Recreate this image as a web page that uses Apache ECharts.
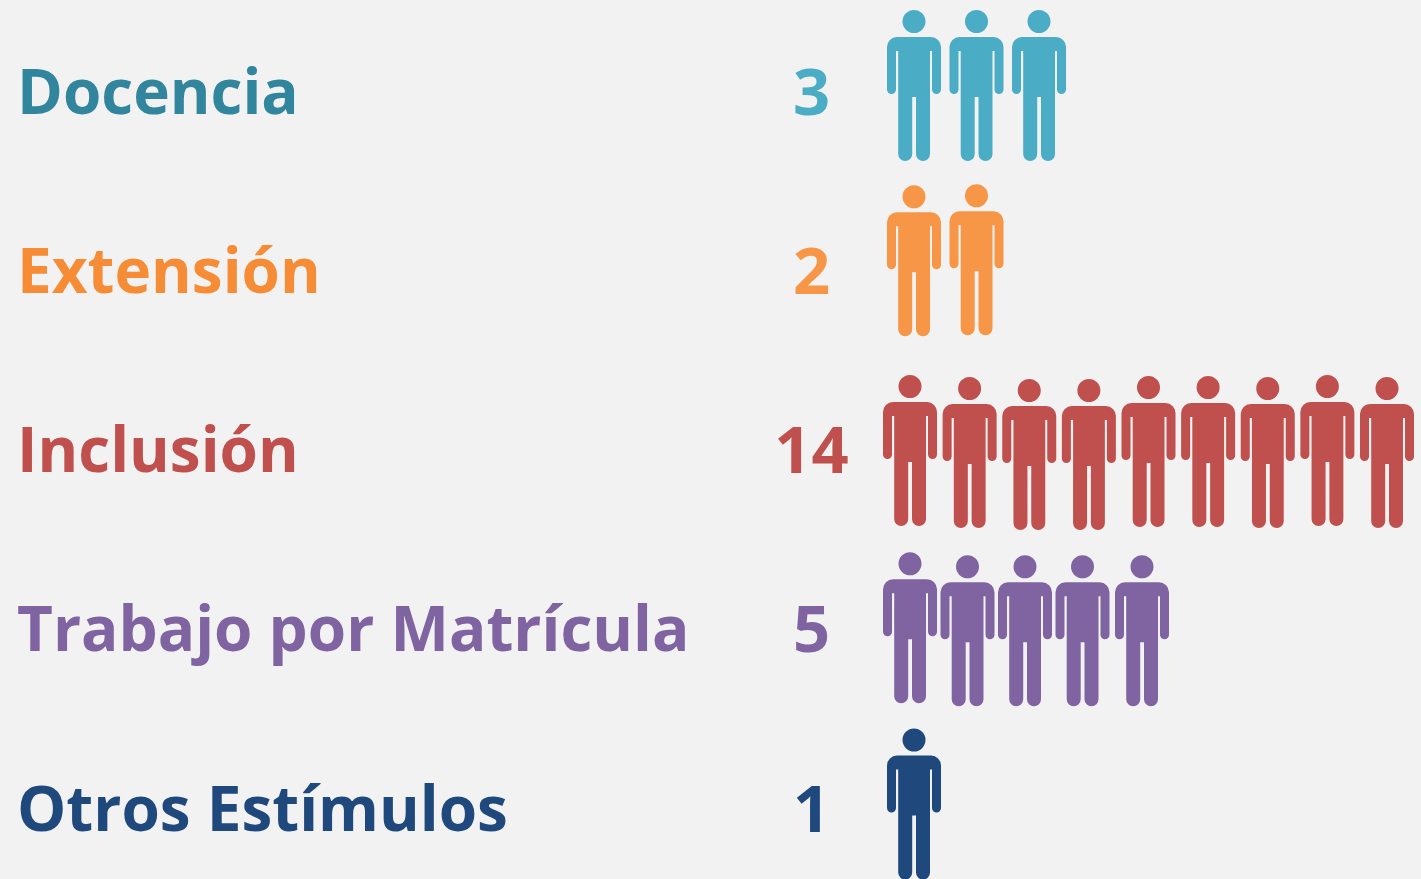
<!DOCTYPE html>
<html><head><meta charset="utf-8">
<style>html,body{margin:0;padding:0;background:#F2F2F2}#c{width:1421px;height:879px}</style>
<script src="https://cdn.jsdelivr.net/npm/echarts@6/dist/echarts.min.js"></script>
</head><body><div id="c"></div>
<script>
const categories = ['Docencia','Extensión','Inclusión','Trabajo por Matrícula','Otros Estímulos'];
const totals = [3,2,14,5,1];
const iconCounts = [3,2,9,5,1];
const nameColors = ['#31859C','#F68D36','#C0504D','#8064A2','#1F497D'];
const iconColors = ['#4BACC6','#F79646','#C0504D','#8064A2','#1F497D'];

// layout styling (pixels / slot ratios), separate from the data
const slotPx = 62.5;
const rowPitch = [1,1,0.954,0.92,1];
const rowDy = [
  [-10.5,-10.5,-10.5],
  [-14.5,-15.5],
  [-4,-2,0,0,-3,-3,-2,-4,-2],
  [-6,-3,-3,-3,-3],
  [-9]
];
const rowDx = [
  [0,0,0],
  [0,0],
  [-4,-4,-4,-4,-4,-4,-4,-4,-4],
  [-4,-4,-4,-4,-2],
  [0]
];
const person = 'path://M27 0A11.5 11.5 0 1 1 27 23A11.5 11.5 0 1 1 27 0Z'
 + 'M10 27H44A10 10 0 0 1 54 37V79.5A4.5 4.5 0 0 1 45 79.5V41H43V144A7 7 0 0 1 29 144V87H25.2V144A7 7 0 0 1 11.2 144V41H9V79.5A4.5 4.5 0 0 1 0 79.5V37A10 10 0 0 1 10 27Z';

const points = [];
iconCounts.forEach((n,row)=>{
  for(let i=0;i<n;i++){
    points.push({
      value:[i*rowPitch[row],row],
      symbolOffset:[rowDx[row][i],rowDy[row][i]],
      itemStyle:{color:iconColors[row],opacity:1}
    });
  }
});
const gridLeft=914, rowH=179.25, gridTop=96-rowH/2;
const chart=echarts.init(document.getElementById('c'),null,{renderer:'canvas'});
const font='"Open Sans"';
chart.setOption({
  animation:false,
  backgroundColor:'#F2F2F2',
  grid:{left:gridLeft,top:gridTop,width:slotPx*8,height:rowH*5,outerBoundsMode:'none'},
  xAxis:{type:'value',min:0,max:8,show:false},
  yAxis:[
    {type:'category',position:'left',inverse:true,data:categories,axisLine:{show:false},axisTick:{show:false},splitLine:{show:false},
     axisLabel:{interval:0,align:'left',margin:gridLeft-17,fontFamily:font,fontWeight:'bold',fontSize:62,
       color:(v,i)=>nameColors[i]}},
    {type:'category',position:'left',inverse:true,data:totals.map(String),axisLine:{show:false},axisTick:{show:false},splitLine:{show:false},
     axisLabel:{interval:0,align:'center',margin:gridLeft-811.5,fontFamily:font,fontWeight:'bold',fontSize:65,
       color:(v,i)=>iconColors[i]}}
  ],
  series:[{type:'scatter',yAxisIndex:0,symbol:person,symbolSize:[54,151],clip:false,data:points,silent:true}]
});
</script></body></html>
